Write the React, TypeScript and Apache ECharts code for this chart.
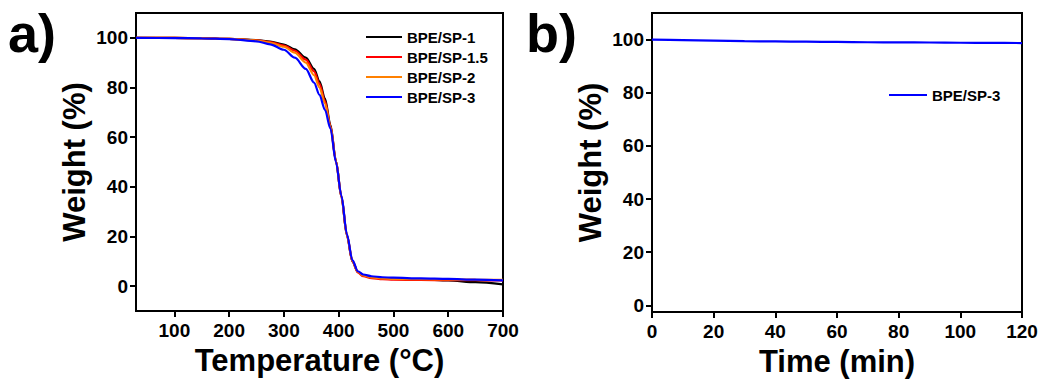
import React, { useEffect, useRef } from "react";
import * as echarts from "echarts";

const temperature = [30, 100, 150, 200, 250, 275, 300, 320, 340, 355, 365, 375, 385, 395, 405, 415, 425, 435, 445, 460, 480, 500, 550, 600, 650, 700];
const wSP1 = [100, 99.95, 99.85, 99.6, 99.1, 98.5, 97.3, 95.4, 92, 87.5, 82.5, 75.5, 65, 50.5, 36, 20.5, 10, 5.7, 4.3, 3.6, 3.2, 3.0, 2.7, 2.3, 1.6, 0.7];
const wSP15 = [100, 99.95, 99.85, 99.6, 99.0, 98.3, 96.9, 94.8, 91.2, 86.5, 81.5, 74.5, 64.5, 50.5, 36, 20.5, 10, 5.5, 4.0, 3.2, 2.8, 2.6, 2.5, 2.4, 2.4, 2.3];
const wSP2 = [100, 99.95, 99.85, 99.6, 98.9, 98.0, 96.4, 94, 90, 85, 80, 73.5, 64, 50.3, 36.2, 20.6, 10.2, 5.8, 4.3, 3.5, 3.1, 2.9, 2.8, 2.7, 2.6, 2.5];
const wSP3 = [100, 99.9, 99.8, 99.5, 98.6, 97.4, 95.2, 92, 87.5, 82, 77, 71, 63.5, 50, 36.5, 21, 10.5, 6, 4.7, 4.0, 3.6, 3.4, 3.1, 2.9, 2.6, 2.3];

const timeMin = [0, 10, 20, 30, 40, 50, 60, 70, 80, 90, 100, 110, 120];
const wIso = [100, 99.8, 99.6, 99.4, 99.3, 99.2, 99.1, 99.0, 98.95, 98.9, 98.8, 98.75, 98.7];

const seriesNames = ["BPE/SP-1", "BPE/SP-1.5", "BPE/SP-2", "BPE/SP-3"];
const seriesColors = ["#000000", "#ff0000", "#ff8000", "#0000ff"];
const tempTicks = [100, 200, 300, 400, 500, 600, 700];
const weightTicks = [0, 20, 40, 60, 80, 100];

const FONT = "'Liberation Sans', Arial, sans-serif";

function pairs(xs: number[], ys: number[]) {
  return xs.map((x, i) => [x, ys[i]]);
}

export default function App() {
  const ref = useRef<HTMLDivElement>(null);
  useEffect(() => {
    if (!ref.current) return;
    const chart = echarts.init(ref.current, null, { renderer: "svg" });
    const labelStyle = { color: "#000", fontSize: 19, fontWeight: "bold" as const, fontFamily: FONT };
    const nameStyle = { color: "#000", fontSize: 31, fontWeight: "bold" as const, fontFamily: FONT };
    const axisLine = { show: true, onZero: false, lineStyle: { color: "#000", width: 2 } };
    const tick = { show: true, inside: false, length: 6, lineStyle: { color: "#000", width: 2 } };
    const legendText = { color: "#000", fontSize: 15, lineHeight: 15, fontWeight: "bold" as const, fontFamily: FONT };
    const weights = [wSP1, wSP15, wSP2, wSP3];
    chart.setOption({
      animation: false,
      backgroundColor: "#fff",
      textStyle: { fontFamily: FONT },
      graphic: [
        { type: "text", left: 8, top: 6, style: { text: "a)", fontSize: 54, fontWeight: "bold", fontFamily: FONT, fill: "#000" } },
        { type: "text", left: 526, top: 6, style: { text: "b)", fontSize: 54, fontWeight: "bold", fontFamily: FONT, fill: "#000" } },
      ],
      legend: [
        {
          data: seriesNames,
          orient: "vertical",
          left: 366,
          top: 29.5,
          padding: 0,
          icon: "rect",
          itemWidth: 36,
          itemHeight: 2.2,
          itemGap: 5,
          textStyle: legendText,
        },
        {
          data: ["BPE/SP-3"],
          orient: "vertical",
          left: 889,
          top: 87.5,
          padding: 0,
          icon: "rect",
          itemWidth: 38,
          itemHeight: 2.2,
          textStyle: legendText,
        },
      ],
      grid: [
        { left: 136, top: 13, width: 367, height: 298, show: true, borderColor: "#000", borderWidth: 2, backgroundColor: "transparent" },
        { left: 652, top: 13, width: 370, height: 299, show: true, borderColor: "#000", borderWidth: 2, backgroundColor: "transparent" },
      ],
      xAxis: [
        {
          type: "value",
          gridIndex: 0,
          min: 30,
          max: 700,
          axisLine,
          axisTick: { ...tick, customValues: tempTicks },
          axisLabel: { ...labelStyle, margin: 10, customValues: tempTicks },
          splitLine: { show: false },
          name: "Temperature (°C)",
          nameLocation: "middle",
          nameGap: 25,
          nameTextStyle: nameStyle,
        },
        {
          type: "value",
          gridIndex: 1,
          min: 0,
          max: 120,
          interval: 20,
          axisLine,
          axisTick: tick,
          axisLabel: { ...labelStyle, margin: 10, showMaxLabel: true, showMinLabel: true },
          splitLine: { show: false },
          name: "Time (min)",
          nameLocation: "middle",
          nameGap: 25,
          nameTextStyle: nameStyle,
        },
      ],
      yAxis: [
        {
          type: "value",
          gridIndex: 0,
          min: -10,
          max: 110,
          axisLine,
          axisTick: { ...tick, customValues: weightTicks },
          axisLabel: { ...labelStyle, margin: 8, customValues: weightTicks },
          splitLine: { show: false },
          name: "Weight (%)",
          nameLocation: "middle",
          nameGap: 46,
          nameTextStyle: nameStyle,
        },
        {
          type: "value",
          gridIndex: 1,
          min: -2.5,
          max: 110,
          axisLine,
          axisTick: { ...tick, customValues: weightTicks },
          axisLabel: { ...labelStyle, margin: 8, customValues: weightTicks },
          splitLine: { show: false },
          name: "Weight (%)",
          nameLocation: "middle",
          nameGap: 46,
          nameTextStyle: nameStyle,
        },
      ],
      series: [
        ...seriesNames.map((name, i) => ({
          name,
          type: "line",
          xAxisIndex: 0,
          yAxisIndex: 0,
          data: pairs(temperature, weights[i]),
          symbol: "none",
          smooth: 0.3,
          smoothMonotone: "x",
          color: seriesColors[i],
          lineStyle: { color: seriesColors[i], width: 2.2 },
        })),
        {
          name: "BPE/SP-3",
          type: "line",
          xAxisIndex: 1,
          yAxisIndex: 1,
          data: pairs(timeMin, wIso),
          symbol: "none",
          smooth: 0.3,
          color: "#0000ff",
          lineStyle: { color: "#0000ff", width: 2.2 },
        },
      ],
    });
    return () => chart.dispose();
  }, []);
  return <div ref={ref} style={{ position: "fixed", left: 0, top: 0, width: 1042, height: 383, background: "#fff" }} />;
}
